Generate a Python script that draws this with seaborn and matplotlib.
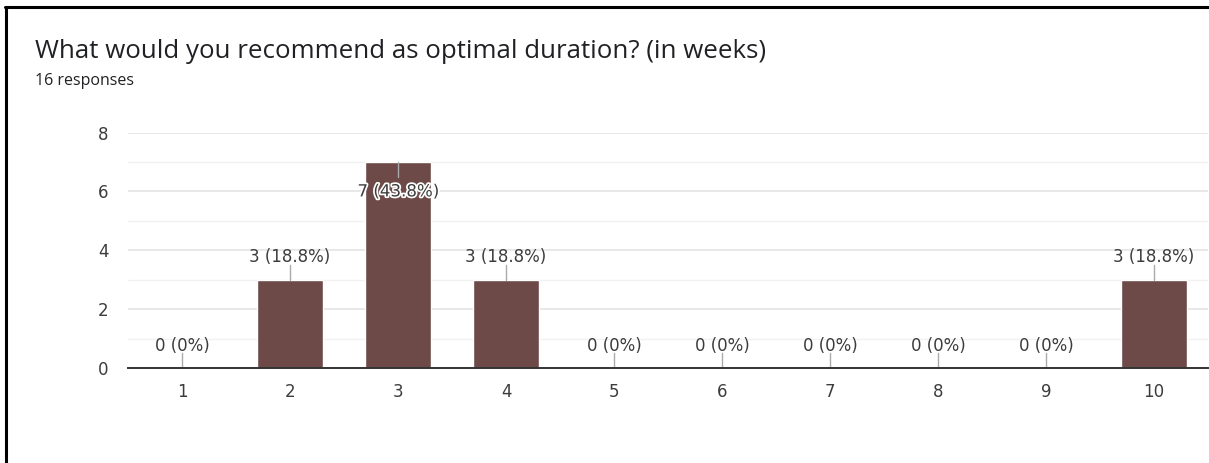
import matplotlib
matplotlib.use("Agg")
import matplotlib.pyplot as plt
from matplotlib.lines import Line2D
import matplotlib.patheffects as pe
import seaborn as sns
import pandas as pd

# Survey answers: recommended duration in weeks
weeks = ["1", "2", "3", "4", "5", "6", "7", "8", "9", "10"]
counts = [0, 3, 7, 3, 0, 0, 0, 0, 0, 3]
total_responses = 16

title = "What would you recommend as optimal duration? (in weeks)"
subtitle = f"{total_responses} responses"

bar_color = "#6d4a47"
text_color = "#3c3c3c"

sns.set_theme(style="white")
plt.rcParams["font.family"] = ["DejaVu Sans"]

df = pd.DataFrame({"weeks": weeks, "count": counts})

fig = plt.figure(figsize=(12.09, 4.63), dpi=100)
ax = fig.add_axes([128 / 1209, 1 - 368 / 463, 1080 / 1209, (368 - 132.5) / 463])

sns.barplot(data=df, x="weeks", y="count", order=weeks, color=bar_color,
            width=0.62, saturation=1, ax=ax, zorder=3)

ymax = 8
ax.set_xlim(-0.5, len(weeks) - 0.5)
ax.set_ylim(0, ymax)
ax.set_yticks([0, 2, 4, 6, 8])
ax.set_yticks([1, 3, 5, 7], minor=True)
ax.grid(axis="y", which="major", color="#e4e4e4", linewidth=1.2, zorder=0)
ax.grid(axis="y", which="minor", color="#f1f1f1", linewidth=1.0, zorder=0)
ax.set_axisbelow(True)
for s in ["top", "right", "left"]:
    ax.spines[s].set_visible(False)
ax.spines["bottom"].set_color("#333333")
ax.spines["bottom"].set_linewidth(1.4)
ax.spines["bottom"].set_zorder(4)
ax.set_xlabel("")
ax.set_ylabel("")
ax.tick_params(axis="x", length=0, pad=10.5, labelsize=12, labelcolor=text_color)
ax.tick_params(axis="y", which="both", length=0, pad=14, labelsize=12, labelcolor=text_color)

# Value labels with short leader lines
for i, c in enumerate(counts):
    pct = round(c / total_responses * 100, 1)
    label = f"{c} ({pct:g}%)"
    if c + 1.0 >= ymax:
        # not enough headroom: label sits inside the bar
        ax.plot([i, i], [c, c - 0.5], color="#aaaaaa", linewidth=1.0, zorder=4)
        ax.text(i, c - 1.0, label, ha="center", va="center", fontsize=12,
                color=text_color, zorder=5,
                path_effects=[pe.withStroke(linewidth=2.5, foreground="white")])
    else:
        ax.plot([i, i], [c, c + 0.5], color="#aaaaaa", linewidth=1.0, zorder=4)
        ax.text(i, c + 0.76, label, ha="center", va="center", fontsize=12,
                color=text_color, zorder=5)

fig.text(35 / 1209, 1 - 52 / 463, title, ha="left", va="center",
         fontsize=18.6, color="#202124", family=["Open Sans", "DejaVu Sans"])
fig.text(35 / 1209, 1 - 81 / 463, subtitle, ha="left", va="center",
         fontsize=11.5, color="#202124", family=["Open Sans", "DejaVu Sans"])

# Card frame
fig.add_artist(Line2D([5 / 1209, 1], [1 - 7 / 463, 1 - 7 / 463],
                      transform=fig.transFigure, color="black", linewidth=2.2))
fig.add_artist(Line2D([6 / 1209, 6 / 1209], [1 - 7 / 463, 0],
                      transform=fig.transFigure, color="black", linewidth=2.2))

fig.savefig("out.png", dpi=100, facecolor="white")
